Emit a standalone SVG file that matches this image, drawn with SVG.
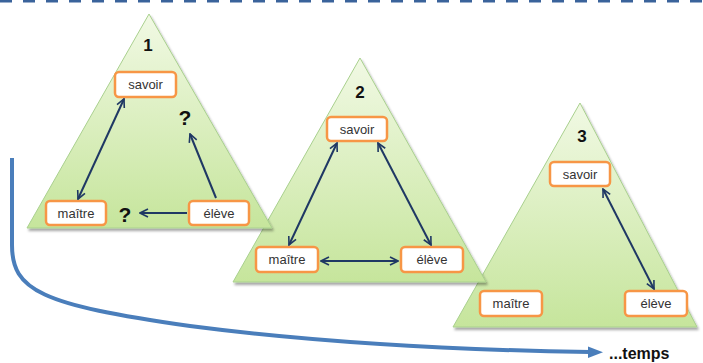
<svg xmlns="http://www.w3.org/2000/svg" width="703" height="363" viewBox="0 0 703 363">
<style>
.tri{fill:url(#g);stroke:#a9d08e;stroke-width:1;filter:url(#sh)}
.box{fill:#fff;stroke:#f79646;stroke-width:2.5}
.lbl{font-family:"Liberation Sans",Arial,sans-serif;font-size:13px;fill:#333;text-anchor:middle}
.num{font-family:"Liberation Sans",Arial,sans-serif;font-size:17px;font-weight:bold;fill:#111;text-anchor:middle}
.q{font-family:"Liberation Sans",Arial,sans-serif;font-size:21px;font-weight:bold;fill:#111;text-anchor:middle}
.c{fill:none;stroke:#1f3864;stroke-width:2}
</style>
<defs>
<linearGradient id="g" x1="0" y1="0" x2="0" y2="1">
<stop offset="0" stop-color="#f1f9e4"/>
<stop offset="1" stop-color="#c6e59c"/>
</linearGradient>
<filter id="sh" x="-10%" y="-10%" width="120%" height="120%">
<feDropShadow dx="1.5" dy="2.5" stdDeviation="1.2" flood-color="#000" flood-opacity="0.35"/>
</filter>
<marker id="a" viewBox="0 0 10 10" refX="9" refY="5" markerWidth="5" markerHeight="5" orient="auto-start-reverse" markerUnits="strokeWidth">
<path d="M1,1 L9,5 L1,9" fill="none" stroke="#1f3864" stroke-width="1.6"/>
</marker>
</defs>
<rect width="703" height="363" fill="#fff"/>
<line x1="0" y1="1" x2="703" y2="1" stroke="#3a639b" stroke-width="3" stroke-dasharray="12 11"/>

<g id="timeline">
<path d="M12,158 L12,245 C12,290 40,305 190,326 C320,343 460,350 590,352" fill="none" stroke="#4a7ebb" stroke-width="4"/>
<path d="M588,346.5 L603,352.3 L588,358 Z" fill="#4a7ebb"/>
<text x="609" y="359" font-family="Liberation Sans,Arial,sans-serif" font-size="16" font-weight="bold" fill="#111">...temps</text>
</g>

<g id="stage3">
<polygon class="tri" points="580,103 697,327 453,327"/>
<text class="num" x="582" y="142">3</text>
<g id="savoir3"><rect class="box" x="550" y="162" width="60" height="24" rx="4"/><text class="lbl" x="580" y="178.5">savoir</text></g>
<g id="maitre3"><rect class="box" x="480" y="291" width="62" height="25" rx="4"/><text class="lbl" x="511" y="308">maître</text></g>
<g id="eleve3"><rect class="box" x="625" y="291" width="62" height="25" rx="4"/><text class="lbl" x="656" y="308">élève</text></g>
</g>

<g id="stage2">
<polygon class="tri" points="360,58 486,282 233,282"/>
<text class="num" x="360" y="98">2</text>
<g id="savoir2"><rect class="box" x="327" y="117" width="60" height="24" rx="4"/><text class="lbl" x="357" y="133.5">savoir</text></g>
<g id="maitre2"><rect class="box" x="256" y="247" width="62" height="25" rx="4"/><text class="lbl" x="287" y="264">maître</text></g>
<g id="eleve2"><rect class="box" x="401" y="247" width="62" height="25" rx="4"/><text class="lbl" x="432" y="264">élève</text></g>
</g>

<g id="stage1">
<polygon class="tri" points="149,14 272,228 27,228"/>
<text class="num" x="148" y="51">1</text>
<g id="savoir1"><rect class="box" x="115" y="72" width="61" height="25" rx="4"/><text class="lbl" x="145.5" y="89">savoir</text></g>
<g id="maitre1"><rect class="box" x="46" y="201" width="60" height="24" rx="4"/><text class="lbl" x="76" y="217.5">maître</text></g>
<g id="eleve1"><rect class="box" x="189" y="201" width="60" height="24" rx="4"/><text class="lbl" x="219" y="217.5">élève</text></g>
<text class="q" x="185" y="125">?</text>
<text class="q" x="125" y="222">?</text>
</g>

<g id="connectors">
<line class="c" x1="124" y1="99" x2="78" y2="199" marker-start="url(#a)" marker-end="url(#a)"/>
<line class="c" x1="216" y1="198" x2="190" y2="134" marker-end="url(#a)"/>
<line class="c" x1="187" y1="213" x2="140" y2="213" marker-end="url(#a)"/>
<line class="c" x1="337" y1="143" x2="289" y2="245" marker-start="url(#a)" marker-end="url(#a)"/>
<line class="c" x1="378" y1="143" x2="431" y2="245" marker-start="url(#a)" marker-end="url(#a)"/>
<line class="c" x1="321" y1="261" x2="398" y2="261" marker-start="url(#a)" marker-end="url(#a)"/>
<line class="c" x1="603" y1="189" x2="654" y2="289" marker-start="url(#a)" marker-end="url(#a)"/>
</g>
</svg>
